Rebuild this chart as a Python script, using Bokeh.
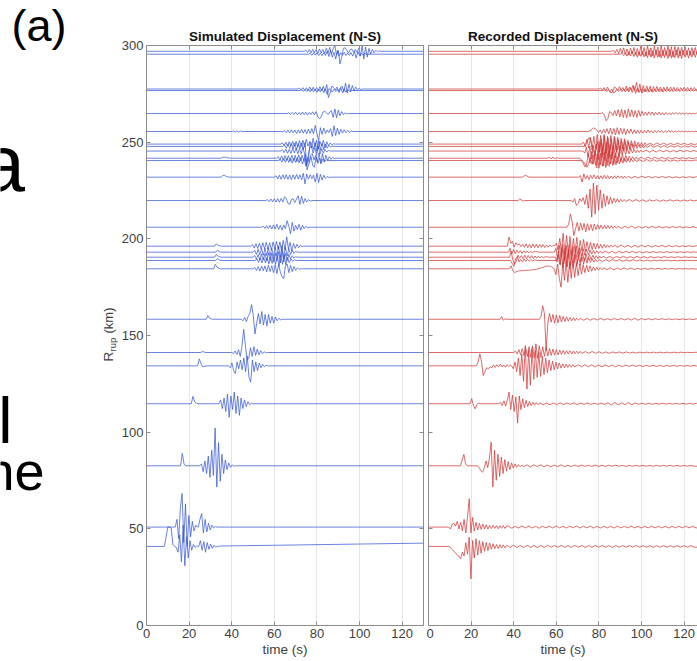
import math
from bokeh.plotting import figure
from bokeh.models import Range1d, LinearAxis, FixedTicker, ColumnDataSource, Title
from bokeh.core.properties import value
from bokeh.layouts import row
from bokeh.embed import file_html
from bokeh.resources import INLINE

# ---------------- data ----------------
x_ticks = [0, 20, 40, 60, 80, 100, 120]
y_ticks = [0, 50, 100, 150, 200, 250, 300]
t_end = 130.0

# station rupture distances (km), same order for both panels
rrup_km = [297.0, 295.5, 277.5, 276.7, 264.8, 255.5, 249.0, 247.8, 245.4, 241.7, 240.5, 231.9, 219.8,
           206.0, 196.2, 193.1, 190.5, 188.8, 184.5, 158.4, 141.2, 134.3, 114.7, 82.6, 50.9, 40.9]

# each wave: list of windows [start time (s), step (s), displacement offsets (km-scaled)]
sim_w01 = [[74, 0.8, [0,0.6,-0.7,0.9,-0.8,1.0,-0.9,0.8,-1.1,1.2,-0.9,1.0,-1.2,1.5,-1.0,2.0,-1.5,1.2,3.0,-2.0,0.5,-6.5,-3.0,1.5,1.8,0.5,-1.0,0.8,1.2,-0.6,0.9,-0.5,1.5,-2.5,2.8,-4.0,2.2,-3.0,1.5,-1.5,1.0,-0.8,0.5,-0.3,0.2,0]]]
sim_w02 = [[76, 0.8, [0,0.5,-0.6,0.7,-0.5,0.8,-0.7,0.6,-0.8,0.9,-0.7,1.5,-1.2,2.0,-1.5,1.0,-2.5,1.8,-1.0,0.8,-0.6,0.9,-0.7,0.5,-0.6,0.8,-1.0,1.5,-2.0,1.2,-0.8,0.5,-0.4,0.3,0]]]
sim_w03 = [[71, 0.8, [0,0.5,-0.6,0.7,-0.8,0.6,-0.9,1.0,-0.7,0.9,-1.0,0.8,-0.9,1.2,-1.0,1.5,-1.0,2.3,-4.4,-2.0,1.5,0.8,-0.5,1.0,-1.2,0.6,1.5,-1.5,3.0,-2.0,2.5,-1.5,1.8,-1.0,1.0,-0.6,0.5,-0.3,0]]]
sim_w04 = [[72, 0.8, [0,0.4,-0.5,0.6,-0.5,0.7,-0.6,0.8,-0.7,0.6,-0.9,0.8,-0.6,1.0,-1.2,0.8,-2.0,1.0,0.5,-0.8,0.6,-0.5,0.8,-1.0,1.5,-1.2,1.0,-0.8,0.6,-0.4,0.3,0]]]
sim_w05 = [[66, 0.8, [0,0.4,-0.5,0.6,-0.5,0.7,-0.6,0.5,-0.7,0.8,-0.6,0.7,-0.8,0.6,-0.5,0.9,-0.7,1.0,-1.5,-2.7,-1.5,0.8,1.2,0.5,-0.5,0.8,1.5,-2.0,2.4,-2.2,1.8,-1.2,1.0,-0.6,0.4,-0.2,0]]]
sim_w06 = [[40, 0.8, [0,0.3,-0.3,0.4,-0.3,0.3,0]],
           [64, 0.8, [0,0.5,-0.6,0.7,-0.8,0.9,-0.7,0.8,-1.0,0.9,-0.8,1.1,-0.9,1.0,-1.2,1.3,-1.0,1.5,-1.2,3.1,-1.0,-4.6,2.0,-1.5,1.8,-1.0,0.8,-0.6,1.5,-2.5,3.0,-2.0,1.8,-1.5,1.2,-0.8,0.9,-0.6,0.5,-0.4,0.3,0]]]
sim_w07 = [[63, 0.8, [0,0.6,-0.8,1.0,-0.9,1.2,-1.0,1.5,-1.2,1.4,-1.6,1.8,-1.3,2.0,-1.5,2.5,-1.0,1.2,-2.0,3.0,-1.5,2.0,-2.5,1.5,-1.0,2.0,-1.8,1.2,-0.8,0.6,-0.4,0.2,0]]]
sim_w08 = [[64, 0.8, [0,0.8,-0.9,1.2,-1.0,1.5,-1.3,1.6,-1.8,1.5,-1.2,1.8,-1.5,2.0,-10.0,-6.0,2.5,1.0,-1.5,2.0,-2.5,3.0,-2.0,1.5,-1.8,1.2,-0.9,0.6,-0.4,0.2,0]]]
sim_w09 = [[63, 0.8, [0,0.7,-0.8,1.0,-1.1,0.9,-1.2,1.3,-1.0,1.5,-1.4,1.2,-1.6,2.0,-1.5,-7.5,-3.0,1.5,2.5,-1.0,1.8,-2.2,2.5,-1.5,1.2,-1.0,0.8,-0.5,0.3,0]]]
sim_w10 = [[35, 0.8, [0,0.5,0.6,0.3,0.2,0.1,0]],
           [61, 0.8, [0,0.8,-1.0,1.2,-1.1,1.4,-1.2,1.3,-1.5,1.6,-1.3,1.5,-1.7,1.8,-1.4,1.6,-1.2,2.0,-6.0,-3.0,1.5,2.5,-1.0,1.5,-2.0,2.8,-3.0,2.5,-2.0,1.5,-1.2,0.8,-0.6,0.4,-0.2,0]]]
sim_w11 = [[62, 0.8, [0,0.6,-0.8,1.0,-0.9,1.2,-1.0,1.1,-1.3,1.2,-1.0,1.4,-1.2,1.5,-1.8,1.0,-3.0,1.5,-1.0,2.0,-2.5,-3.5,2.0,-1.5,1.2,-1.0,0.8,-0.5,0.3,0]]]
sim_w12 = [[35, 0.8, [0,0.8,1.0,0.4,0.1,0]],
           [60, 0.8, [0,0.7,-0.9,1.0,-1.1,1.2,-1.0,1.3,-1.2,1.1,-1.3,1.2,-1.1,1.4,-1.0,1.2,-1.3,2.0,-3.5,1.5,-1.0,1.2,-0.8,1.0,-2.5,2.0,-2.8,1.5,-1.5,1.0,-0.6,0.4,-0.2,0]]]
sim_w13 = [[56, 0.8, [0,0.5,-0.6,0.8,-0.7,0.9,-0.8,1.0,-0.9,1.1,-0.8,2.0,1.0,-1.5,-2.0,0.5,1.0,-1.0,0.8,2.5,-2.0,2.2,-1.5,1.0,-0.8,0.5,-0.3,0]]]
sim_w14 = [[54, 0.8, [0,0.5,-0.6,0.8,-0.7,1.0,-0.9,1.2,-1.0,1.5,-1.2,1.0,-1.5,1.2,-0.8,3.4,0.5,-3.4,2.5,-2.0,1.0,-1.2,1.5,-1.5,1.0,-0.8,0.5,-0.3,0]]]
sim_w15 = [[32, 0.8, [0,1.3,0.4,0.2,0]],
           [49, 0.8, [0,0.8,-1.0,1.3,-1.2,1.6,-1.5,1.8,-1.4,2.0,-1.6,1.8,-2.0,2.2,-1.5,2.5,-1.8,2.2,-2.4,3.0,-2.0,4.8,-1.5,2.0,-2.5,1.5,-1.2,1.0,-0.8,0.5,-0.3,0]]]
sim_w16 = [[32.5, 0.8, [0,1.0,0.3,0]],
           [50, 0.8, [0,1.0,-1.2,1.5,-1.3,1.8,-1.6,2.0,-1.7,2.2,-1.8,2.0,-2.2,2.5,-2.0,3.0,-2.5,3.5,-3.0,2.5,-2.0,1.8,-1.2,1.0,-0.6,0.4,0]]]
sim_w17 = [[32, 0.8, [0,1.5,0.5,0.2,0]],
           [50, 0.8, [0,0.9,-1.1,1.4,-1.5,1.7,-1.4,1.9,-2.0,2.3,-1.8,2.1,-2.4,2.2,-2.0,2.8,-3.0,3.5,-2.5,2.0,-1.8,1.5,-1.0,0.8,-0.5,0.3,0]]]
sim_w18 = [[32.5, 0.8, [0,1.0,0.3,0]],
           [51, 0.8, [0,0.8,-1.0,1.2,-1.3,1.5,-1.2,1.6,-1.8,2.0,-1.5,1.8,-2.0,2.5,-3.0,2.5,-2.0,2.8,-2.2,1.6,-1.2,0.8,-0.5,0.3,0]]]
sim_w19 = [[31.5, 0.8, [0,2.3,0.8,0.3,0]],
           [50, 0.8, [0,0.7,-0.9,1.1,-1.2,1.4,-1.0,1.5,-1.6,1.8,-1.4,1.6,-2.0,2.0,-2.5,2.2,-1.5,-4.3,-5.0,1.5,2.5,-2.0,1.8,-1.5,1.2,-0.8,0.5,-0.3,0]]]
sim_w20 = [[28, 0.8, [0,1.9,0.5,0.2,0]],
           [44.5, 0.8, [0,-0.8,1.0,-1.2,1.5,3.0,7.6,2.0,-7.6,-2.0,3.0,-2.5,4.0,-3.0,2.5,-3.5,2.5,-2.0,1.5,-2.0,1.2,-0.8,0.5,-0.3,0]]]
sim_w21 = [[25.5, 0.8, [0,0.6,0.2,0]],
           [40, 0.8, [0,-0.5,0.8,-1.0,1.5,-2.0,3.0,12.0,4.0,-4.0,-3.0,2.5,-2.0,3.0,-1.5,1.8,-1.2,1.0,-0.6,0.4,-0.2,0]]]
sim_w22 = [[24, 0.8, [0,3.6,1.0,-0.5,-0.3,0]],
           [38.5, 0.8, [0,-1.0,1.5,-2.5,-4.0,2.0,-1.5,3.0,-2.0,4.0,-3.0,5.0,-6.0,-8.4,3.0,-3.0,2.0,-2.5,1.5,-1.0,0.8,-0.5,0.3,0]]]
sim_w23 = [[21, 0.8, [0,3.8,1.0,0.3,0]],
           [34, 0.8, [0,2.0,-2.5,3.0,-4.0,5.0,-7.0,4.0,-3.0,6.0,-5.0,4.0,-6.0,3.0,-2.5,2.0,-1.5,1.0,-0.5,0.3,0]]]
sim_w24 = [[16, 0.8, [0,6.5,1.0,0]],
           [25, 0.8, [0,1.0,-3.0,2.5,-4.0,5.0,-6.0,8.0,-5.0,19.5,-11.0,12.0,-8.0,6.0,-4.0,3.0,-2.0,1.5,-0.8,0.5,-0.2,0]]]
sim_w25 = [[13.5, 0.8, [0,4.0,-6.0,10.0,17.4,-8.0,12.0,-10.0,6.0,-5.0,3.0,-2.0,1.0,0]],
           [24.3, 0.8, [0,4.0,7.0,-3.0,4.0,-2.5,2.0,-1.5,1.0,-0.5,0.3,0]]]
sim_w26 = [[8.4, 0.8, [0,5,10,10,9.5,1,0,-0.5,-3,6,-8,11,-10,5,-6,3,-2,1,-0.5,0.3,0]],
           [24.5, 0.8, [0,3.0,-2.0,2.5,-3.0,2.0,-1.5,1.2,-1.0,0.6,-0.4,0.2,0]],
           [34.5, 95.5, [0.2, 1.7]]]

rec_w01 = [[86, 0.8, [0,0.6,-0.8,1.0,-1.2,1.5,-1.0,1.8,-1.5,1.2,-2.0,1.6,-1.4,2.0,-1.8,1.5,-2.2,2.5,-1.8,2.0,-2.5,2.8,-2.0,1.8,-2.4,2.6,-2.0,2.2,-2.8,3.0,-2.5,2.0,-2.2,2.8,-2.6,2.4,-3.0,2.5,-2.0,2.2,-2.5,2.0,-1.8,2.3,-2.0,1.8,-2.1,1.9,-1.7,2.0,-1.6,1.5]]]
rec_w02 = [[90, 0.8, [0,0.5,-0.7,0.9,-1.0,1.2,-0.9,1.4,-1.2,1.0,-1.5,1.3,-1.1,1.6,-1.4,1.2,-1.8,2.0,-1.5,1.7,-2.0,2.2,-1.6,1.5,-2.0,2.1,-1.7,1.8,-2.2,2.4,-2.0,1.6,-1.8,2.2,-2.0,1.9,-2.3,2.0,-1.6,1.8,-2.0,1.6,-1.5,1.8,-1.6,1.4,-1.5]]]
rec_w03 = [[80, 0.8, [0,0.5,-0.6,0.7,-0.8,1.0,-1.0,-2.0,-1.5,1.0,0.5,-0.8,1.2,-0.5,0.8,-1.0,1.5,-0.8,1.0,-0.6,2.0,-1.0,3.4,-1.5,2.5,-2.0,1.8,-1.5,1.6,-1.2,1.4,-1.5,1.2,-1.0,1.3,-1.1,1.0,-1.2,0.9,-1.0,1.1,-0.9,1.0,-0.8,0.9,-1.0,0.8,-0.9,0.7,-0.8,0.9,-0.7,0.8,-0.9,0.7,-0.6,0.8,-0.7,0.6,-0.5]]]
rec_w04 = [[82, 0.8, [0,0.4,-0.5,0.6,-0.7,0.8,-1.2,-0.8,0.6,-0.5,0.7,-0.6,0.8,-0.7,1.0,-0.8,1.5,-1.0,2.0,-1.5,1.2,-1.0,0.9,-1.1,0.8,-0.7,0.9,-0.8,0.7,-0.9,0.6,-0.7,0.8,-0.6,0.7,-0.8,0.6,-0.5,0.7,-0.6,0.5,-0.6,0.5,-0.4,0.5,-0.5,0.4,-0.3,0.4,-0.3,0.3,-0.3,0.3,-0.2,0.2,-0.2,0.2]]]
rec_w05 = [[81, 0.8, [0,0.5,-1.0,-3.7,-2.5,1.0,0.5,-1.0,1.5,-1.2,2.0,-1.8,2.2,-2.0,1.8,-2.2,2.4,-1.6,2.0,-1.8,1.5,-2.0,1.7,-1.4,1.2,-1.0,0.8,-1.0,0.9,-0.7,0.8,-0.9,0.6,-0.7,0.8,-0.6,0.5,-0.7,0.6,-0.5,0.4,-0.6,0.5,-0.4,0.5,-0.4,0.3,-0.4,0.3,-0.3,0.3,-0.3,0.2,-0.2,0.2,-0.2,0.2,-0.2]]]
rec_w06 = [[75, 0.8, [0,0.5,1.0,1.9,1.5,0.8,-0.5,0.8,-1.0,1.2,-0.8,1.5,-1.2,1.8,-1.4,1.6,-1.8,2.0,-1.5,1.7,-1.3,1.5,-1.6,1.2,-1.0,1.3,-1.1,0.9,-1.0,0.8,-0.9,0.7,-0.8,0.6,-0.7,0.8,-0.6,0.5,-0.7,0.6,-0.5,0.6,-0.4,0.5,-0.5,0.4,-0.4,0.5,-0.3,0.4,-0.4,0.3,-0.3,0.3,-0.2,0.3,-0.2,0.2,-0.2,0.2,-0.2,0.2,-0.2,0.2,-0.2]]]
rec_w07 = [[72, 0.8, [0,1.0,-1.5,2.5,-2.0,3.5,-3.0,4.0,-2.5,5.0,-4.0,4.5,-3.5,5.0,-4.5,4.0,-5.0,4.5,-3.5,4.0,-3.0,3.5,-3.2,3.0,-2.5,2.8,-2.2,2.0,-2.4,1.8,-1.5,1.6,-1.2,1.0,-1.1,0.8,-0.9,0.7]],
           [102.4, 1.6, [-0.6,0.5,-0.5,0.6,-0.4,0.5,-0.5,0.4,-0.4,0.5,-0.3,0.4,-0.4,0.3,-0.3,0.3]]]
rec_w08 = [[73, 0.8, [0,1.5,3.0,4.5,3.0,-1.0,-3.5,-2.0,2.5,-3.0,4.0,-4.5,5.5,-4.0,4.5,-5.0,3.8,-4.2,4.5,-3.0,3.5,-3.8,2.8,-2.5,3.0,-2.2,2.0,-1.8,1.5,-1.6,1.2,-1.0,0.9,-0.8,0.7,-0.8,0.6]],
           [102.6, 1.6, [-0.5,0.6,-0.4,0.5,-0.5,0.4,-0.5,0.4,-0.3,0.4,-0.4,0.3,-0.3,0.4,-0.3,0.3]]]
rec_w09 = [[72.5, 0.8, [0,-1.0,2.0,-3.0,2.5,-4.0,3.0,-2.5,3.5,-4.5,5.0,-3.5,4.0,-5.0,4.5,-4.0,3.5,-4.0,3.0,-3.5,2.5,-3.0,2.8,-2.0,2.2,-1.8,1.5,-1.4,1.2,-1.0,0.8,-0.9,0.6,-0.7,0.5]],
           [100.5, 1.6, [-0.5,0.5,-0.6,0.4,-0.5,0.5,-0.4,0.4,-0.5,0.3,-0.4,0.4,-0.3,0.3,-0.3,0.3,-0.2]]]
rec_w10 = [[56, 0.8, [0,0.5,-0.4,0.6,-0.3,0.2,0]],
           [71, 0.8, [0,-1.0,-2.5,-4.5,-3.0,2.0,-2.5,3.5,-3.0,4.0,-5.0,4.5,-3.5,5.0,-4.0,4.5,-3.8,4.0,-3.0,3.5,-3.2,2.8,-2.4,2.5,-2.0,1.8,-1.6,1.4,-1.2,1.0,-0.9,0.8,-0.7,0.6]],
           [98.2, 1.6, [-0.6,0.5,-0.5,0.6,-0.4,0.5,-0.4,0.5,-0.4,0.3,-0.4,0.4,-0.3,0.3,-0.3,0.3,-0.2,0.2]]]
rec_w11 = [[72, 0.8, [0,-0.8,-2.0,-3.5,-1.5,1.5,-2.0,3.0,-2.5,3.5,-4.0,3.8,-3.0,4.2,-3.6,3.5,-3.0,3.2,-2.6,2.8,-2.2,2.0,-1.8,1.6,-1.4,1.2,-1.0,0.9,-0.8,0.7,-0.6,0.5]],
           [97.6, 1.6, [-0.5,0.4,-0.5,0.5,-0.4,0.4,-0.4,0.3,-0.4,0.4,-0.3,0.3,-0.3,0.3,-0.2,0.2,-0.2,0.2]]]
rec_w12 = [[44, 0.8, [0,0.6,1.0,0.4,0]],
           [70.5, 0.8, [0,0.8,-2.6,1.7,-1.0,0.8,-1.2,1.0,-0.8,1.2,-0.9,0.8,-1.0,0.7,-0.9,1.0,-0.7,0.8,-0.9,0.6,-0.8,0.7,-0.6,0.7,-0.5,0.6,-0.6,0.5,-0.5]],
           [93.7, 1.6, [0.4,-0.5,0.4,-0.4,0.5,-0.3,0.4,-0.4,0.3,-0.3,0.4,-0.3,0.3,-0.3,0.2,-0.3,0.2,-0.2,0.2,-0.2,0.2]]]
rec_w13 = [[42, 0.8, [0,0.8,0.3,-0.3,0]],
           [67, 0.8, [0,-0.8,1.0,-2.6,-1.5,1.0,-0.5,1.5,-2.0,3.0,-4.0,6.0,-8.6,9.0,-7.0,8.0,-5.0,5.5,-4.0,3.5,-3.0,2.5,-2.0,1.8,-1.5,1.2,-1.0,0.9,-0.8,0.7,-0.6,0.5]],
           [92.6, 1.6, [-0.5,0.5,-0.4,0.5,-0.4,0.4,-0.5,0.4,-0.3,0.4,-0.4,0.3,-0.3,0.4,-0.3,0.3,-0.3,0.3,-0.2,0.3,-0.2,0.2]]]
rec_w14 = [[65, 0.8, [0,1.5,6.9,3.0,-4.3,-1.0,2.5,-2.0,2.2,-1.5,2.0,-2.4,1.8,-1.6,1.5,-1.8,1.6,-1.2,1.3,-1.0,1.1,-0.9,1.0,-0.8,0.9,-0.7,0.8,-0.6,0.6,-0.5]],
           [89, 1.6, [0.5,-0.6,0.5,-0.4,0.6,-0.5,0.4,-0.5,0.4,-0.4,0.5,-0.3,0.4,-0.4,0.3,-0.3,0.4,-0.3,0.3,-0.3,0.2,-0.2,0.3,-0.2]]]
rec_w15 = [[37, 0.8, [0,4.7,1.5,2.5,-0.5,1.8,0.5,1.2,-0.3,1.0,-0.6,1.2,-0.8,1.0,-0.9,1.2,-0.7,1.0,-0.8,0.9,-0.6,0.8,-0.7,0.6,-0.5,0.6,-0.4,0.5,0.3]],
           [60, 0.8, [1.5,-2.0,4.0,-3.0,6.7,-4.0,5.5,-3.5,5.0,-4.5,4.0,-3.0,4.5,-3.5,3.0,-2.5,3.5,-2.8,2.5,-2.2,2.0,-1.8,1.6,-1.5,1.4,-1.2,1.0,-1.1,0.9,-0.8,0.7,-0.6,0.6,-0.5]],
           [87.2, 1.6, [0.5,-0.6,0.6,-0.5,0.5,-0.6,0.4,-0.5,0.5,-0.4,0.4,-0.5,0.4,-0.3,0.4,-0.4,0.3,-0.3,0.3,-0.3,0.2,-0.2,0.2,-0.2,0.2]]]
rec_w16 = [[37.5, 0.8, [0,2.0,-1.0,1.5,-0.8,1.0,-0.5,0.8,-0.6,0.7,-0.5,0.6,-0.4,0.5,-0.4,0.4,0.3,0.2,0]],
           [59, 0.8, [0,2.0,-3.0,3.5,-2.5,4.0,-4.5,3.5,-3.0,4.0,-3.5,3.0,-2.8,3.2,-2.5,2.2,-2.0,1.8,-1.6,1.5,-1.3,1.1,-1.0,0.9,-0.8,0.7,-0.6,0.5]],
           [81.4, 1.6, [-0.5,0.5,-0.4,0.5,-0.5,0.4,-0.4,0.5,-0.3,0.4,-0.4,0.3,-0.4,0.3,-0.3,0.3,-0.3,0.2,-0.2,0.3,-0.2,0.2,-0.2,0.2,-0.2,0.2,-0.1,0.1,0.0]]]
rec_w17 = [[38, 0.8, [0,3.0,-1.5,-3.5,-2.0,1.0,-0.5,0.8,-0.7,1.0,-0.8,0.9,-0.6,0.8,-0.7,0.6,-0.5,0.6,-0.4,0.5,-0.4,0.3,0.2,0]],
           [59.5, 0.8, [0,-2.5,3.0,-4.0,5.0,-3.5,4.5,-5.0,4.0,-4.2,3.5,-3.0,3.8,-3.2,2.8,-2.5,2.2,-2.0,1.8,-1.5,1.3,-1.2,1.0,-0.9,0.8,-0.7,0.6,-0.5]],
           [81.9, 1.6, [0.5,-0.5,0.4,-0.5,0.4,-0.4,0.5,-0.4,0.3,-0.4,0.4,-0.3,0.3,-0.3,0.3,-0.3,0.2,-0.2,0.3,-0.2,0.2,-0.2,0.2,-0.2,0.2,-0.1,0.1,-0.1,0.0]]]
rec_w18 = [[38.5, 0.8, [0,-1.5,-3.0,1.0,2.0,-0.8,0.6,-0.7,0.8,-0.5,0.6,-0.4,0.5,-0.3,0.3,0.2,0]],
           [60, 0.8, [0,3.0,-2.0,3.5,-4.0,4.5,-3.0,3.8,-4.5,3.2,-3.5,2.8,-3.0,2.5,-2.2,2.0,-1.8,1.5,-1.4,1.2,-1.0,0.9,-0.8,0.6,-0.5]],
           [80, 1.6, [0.4,-0.5,0.4,-0.4,0.5,-0.3,0.4,-0.4,0.3,-0.3,0.4,-0.3,0.3,-0.3,0.2,-0.3,0.2,-0.2,0.2,-0.2,0.2,-0.2,0.1,-0.1,0.1,-0.1,0.1,-0.1,0.0,0.0]]]
rec_w19 = [[38, 0.8, [0,1.5,-1.0,-2.0,-1.5,-1.2,-1.0,-1.0,-0.9,-0.8,-0.8,-0.7,-0.7,-0.6,-0.5,-0.4,-0.2,0.0,0.3,0.6,0.9,1.2,1.4,1.5,1.3,0.8]],
           [59, 0.8, [0,-3.0,2.5,-5.0,-9.5,3.0,-6.0,4.0,-7.0,3.5,-5.0,4.0,-4.5,3.0,-3.5,2.5,-2.8,2.2,-2.0,1.8,-1.6,1.4,-1.2,1.0,-0.9,0.8,-0.7,0.6,-0.5]],
           [82.2, 1.6, [0.5,-0.4,0.5,-0.5,0.4,-0.4,0.5,-0.3,0.4,-0.4,0.3,-0.3,0.3,-0.3,0.3,-0.2,0.2,-0.2,0.2,-0.2,0.2,-0.2,0.2,-0.1,0.1,-0.1,0.1,-0.1]]]
rec_w20 = [[33.5, 0.8, [0,1.4,-0.5,0.2,0]],
           [52, 0.8, [0,1.5,7.0,3.0,-16.0,-2.0,3.0,-1.5,2.5,-2.0,2.2,-1.8,2.0,-1.5,1.5,-1.2,1.3,-1.0,0.9,-0.8,0.8,-0.7,0.6,-0.5]],
           [71.2, 1.6, [0.5,-0.5,0.4,-0.5,0.4,-0.4,0.5,-0.4,0.3,-0.4,0.4,-0.3,0.4,-0.3,0.3,-0.4,0.5,-0.5,0.4,-0.3,0.3,-0.3,0.3,-0.2,0.3,-0.2,0.2,-0.2,0.2,-0.2,0.2,-0.2,0.2,-0.2,0.2]]]
rec_w21 = [[40, 0.8, [0,0.8,-0.8,1.5,-1.2,2.0,-1.5,2.5,-2.0,3.0,-2.5,3.5,-2.8,4.5,-3.0,3.5,-2.5,3.0,-2.0,2.5,-1.8,2.0,-1.5,1.8,-1.4,1.5,-1.2,1.3,-1.0,1.1,-0.9,1.0,-0.8,0.9,-0.7,0.8,-0.6,0.7,-0.5,0.6]],
           [72, 1.6, [-0.5,0.5,-0.4,0.5,-0.4,0.4,-0.4,0.3,-0.4,0.3,-0.3,0.3,-0.3,0.3,-0.3,0.2,-0.3,0.2,-0.2,0.2,-0.2,0.2,-0.2,0.2,-0.2,0.2,-0.2,0.2,-0.2,0.2,-0.1,0.1,-0.1,0.1]]]
rec_w22 = [[22.5, 0.8, [0,2.0,6.2,2.0,-5.0,-3.0,-1.0,-1.5,-0.5,-1.0,0.5,-0.8,0.6,-0.5,0.8,-0.6,0.5,-0.7,0.6,-0.4,0.5]],
           [39, 0.8, [0,-1.5,2.0,-3.0,4.0,-5.0,6.0,-8.0,10.5,-12.0,8.0,-10.0,9.0,-7.0,8.0,-6.0,7.0,-5.5,5.0,-4.5,4.0,-3.5,3.0,-2.5,2.5,-2.0,1.8,-1.6,1.5,-1.2,1.0,-1.0,0.9,-0.8,0.8,-0.7,0.6]],
           [68.6, 1.6, [-0.6,0.6,-0.5,0.6,-0.5,0.5,-0.6,0.4,-0.5,0.5,-0.4,0.4,-0.5,0.4,-0.4,0.4,-0.3,0.4,-0.3,0.3,-0.4,0.3,-0.3,0.3,-0.3,0.2,-0.3,0.2,-0.2,0.2,-0.2,0.2,-0.2,0.2,-0.2,0.2,-0.2]]]
rec_w23 = [[19.5, 0.8, [0,2.6,-1.0,-2.6,-0.5,0.3,0]],
           [33, 0.8, [0,0.8,-1.0,1.5,-1.2,2.0,6.0,-3.0,4.5,-4.0,3.5,-10.0,4.0,-3.0,2.5,-2.0,1.8,-1.5,1.2,-1.0,0.8,-0.7,0.6,-0.5]],
           [52.2, 1.6, [0.5,-0.5,0.4,-0.5,0.4,-0.4,0.5,-0.4,0.4,-0.3,0.4,-0.4,0.3,-0.3,0.4,-0.3,0.3,-0.3,0.3,-0.3,0.5,-0.6,0.7,-0.6,0.5,-0.5,0.6,-0.5,0.4,-0.3,0.3,-0.3,0.3,-0.3,0.2,-0.2,0.3,-0.2,0.2,-0.2,0.2,-0.2,0.2,-0.2,0.2,-0.2,0.2]]]
rec_w24 = [[15, 0.8, [0,3.0,5.9,1.0,0]],
           [23, 0.8, [0,-1.0,-2.5,-3.3,-1.0,2.5,-1.0,4.0,12.2,-11.0,8.0,-7.5,6.0,-5.5,4.5,-4.0,3.2,-2.8,2.2,-2.0,1.5,-1.2,1.0,-0.8,0.6,-0.5,0.4]],
           [44.6, 1.6, [-0.5,0.5,-0.6,0.5,-0.4,0.5,-0.5,0.4,-0.5,0.4,-0.4,0.5,-0.4,0.3,-0.4,0.4,-0.3,0.4,-0.3,0.3,-0.3,0.4,-0.3,0.3,-0.3,0.3,-0.2,0.3,-0.2,0.2,-0.3,0.2,-0.2,0.2,-0.2,0.2,-0.2,0.2,-0.2,0.2,-0.2,0.2,-0.2,0.2,-0.2,0.2,-0.2,0.2,-0.2,0.2,-0.2]]]
rec_w25 = [[9.5, 0.8, [0,-1.0,1.5,2.0,0.5,3.0,-1.0,2.5,-2.0,4.0,-3.0,5.0,14.7,-3.0,5.0,-2.0,2.5,-1.5,2.0,-1.2,1.5,-1.0,1.2,-1.0,0.9,-0.8,1.0,-0.7,0.8,-0.9,0.7,-0.6,0.8,-0.7,0.6]],
           [37.5, 1.6, [0.5,-0.6,0.4,-0.5,0.6,-0.4,0.5,-0.5,0.4,-0.6,0.5,-0.4,0.5,-0.5,0.6,-0.4,0.4,-0.5,0.5,-0.4,0.6,-0.5,0.4,-0.4,0.5,-0.5,0.4,-0.5,0.5,-0.4,0.4,-0.5,0.5,-0.4,0.4,-0.4,0.5,-0.4,0.4,-0.5,0.4,-0.4,0.5,-0.4,0.4,-0.4,0.4,-0.5,0.4,-0.4,0.4,-0.4,0.5,-0.4,0.4,-0.4]]]
rec_w26 = [[9.5, 0.8, [0,-0.5,-1.5,-2.5,-3.5,-4.5,-5.0,-6.4,-3.0,-5.0,2.0,-4.0,4.8,-16.8,3.0,-6.0,4.0,-4.5,3.0,-3.5,2.5,-2.5,2.0,-2.2,1.8,-1.5,1.4,-1.2,1.0,-1.1,0.9,-0.8,0.8,-0.7]],
           [36.7, 1.6, [0.6,-0.5,0.7,-0.6,0.5,-0.6,0.6,-0.5,0.5,-0.6,0.5,-0.5,0.6,-0.4,0.5,-0.5,0.6,-0.5,0.4,-0.5,0.5,-0.4,0.5,-0.5,0.4,-0.5,0.5,-0.4,0.5,-0.4,0.4,-0.5,0.4,-0.4,0.5,-0.4,0.4,-0.4,0.5,-0.4,0.4,-0.4,0.4,-0.5,0.4,-0.4,0.4,-0.4,0.4,-0.4,0.4,-0.4,0.4,-0.4,0.4,-0.4]]]

sim_waves = [sim_w01, sim_w02, sim_w03, sim_w04, sim_w05, sim_w06, sim_w07, sim_w08, sim_w09, sim_w10,
             sim_w11, sim_w12, sim_w13, sim_w14, sim_w15, sim_w16, sim_w17, sim_w18, sim_w19, sim_w20,
             sim_w21, sim_w22, sim_w23, sim_w24, sim_w25, sim_w26]
rec_waves = [rec_w01, rec_w02, rec_w03, rec_w04, rec_w05, rec_w06, rec_w07, rec_w08, rec_w09, rec_w10,
             rec_w11, rec_w12, rec_w13, rec_w14, rec_w15, rec_w16, rec_w17, rec_w18, rec_w19, rec_w20,
             rec_w21, rec_w22, rec_w23, rec_w24, rec_w25, rec_w26]

# ---------------- layout ----------------
H = 661
LEFT_W = 118          # text strip on the far left
FRAME_L = 146         # left edge of first plot frame (canvas px)
FRAME_W = 277
FRAME_T = 45
FRAME_H = 580
X_MAX = 130.0
Y_MAX = 300.0
PX_PER_S = FRAME_W / X_MAX
FONT = "Liberation Sans"
ASC, DESC = 0.905, 0.212   # font metrics used to place a baseline with "middle" anchoring


def build_source(waves):
    xs_all, ys_all = [], []
    for base, wins in zip(rrup_km, waves):
        xs, ys = [0.0], [base]
        last = 0.0
        for t0, dt, vals in wins:
            for i, v in enumerate(vals):
                xs.append(t0 + i * dt)
                ys.append(base + v)
            last = vals[-1]
        xs.append(t_end)
        ys.append(base + last)
        xs_all.append(xs)
        ys_all.append(ys)
    return ColumnDataSource(dict(xs=xs_all, ys=ys_all))


def style_axis(ax, ticks, labels):
    ax.ticker = FixedTicker(ticks=ticks)
    ax.axis_line_color = "#8c8c8c"
    ax.axis_line_width = 1
    ax.major_tick_line_color = "#8c8c8c"
    ax.major_tick_in = 4
    ax.major_tick_out = 0
    ax.minor_tick_line_color = None
    ax.major_label_text_font = FONT
    ax.major_label_text_color = "#404040"
    if labels:
        ax.major_label_text_font_size = "13px"
        ax.major_label_standoff = 3
    else:
        ax.major_label_text_font_size = "0px"
        ax.major_label_standoff = 0


def make_panel(total_w, x_hi, min_left, min_right, waves, color, title, title_offset,
               left_labels, right_axis):
    p = figure(width=total_w, height=H,
               x_range=Range1d(0, x_hi), y_range=Range1d(0, Y_MAX),
               output_backend="svg", toolbar_location=None,
               min_border_left=min_left, min_border_right=min_right,
               min_border_top=FRAME_T, min_border_bottom=H - FRAME_T - FRAME_H)
    p.title = Title(text=title, align="center", text_font=FONT, text_font_size="13.5px",
                    text_font_style="bold", text_color="#111111", standoff=3,
                    offset=title_offset)
    p.outline_line_color = None
    p.background_fill_color = "white"
    p.border_fill_color = "white"
    style_axis(p.xaxis[0], x_ticks, True)
    p.xaxis[0].axis_label = "time (s)"
    p.xaxis[0].axis_label_text_font = FONT
    p.xaxis[0].axis_label_text_font_size = "13.5px"
    p.xaxis[0].axis_label_text_font_style = "normal"
    p.xaxis[0].axis_label_text_color = "#404040"
    p.xaxis[0].axis_label_standoff = 1
    style_axis(p.yaxis[0], y_ticks, left_labels)
    top = LinearAxis()
    style_axis(top, x_ticks, False)
    p.add_layout(top, "above")
    if right_axis:
        rt = LinearAxis()
        style_axis(rt, y_ticks, False)
        p.add_layout(rt, "right")
    p.xgrid.ticker = FixedTicker(ticks=x_ticks)
    p.xgrid.grid_line_color = "#e6e6e6"
    p.ygrid.visible = False

    src = build_source(waves)
    p.multi_line("xs", "ys", source=src, line_color=color, line_width=0.8,
                 line_alpha=0.95, line_join="round")
    return p


# left strip: panel tag, slide text fragments and the rotated y-axis label
pL = figure(width=LEFT_W, height=H, x_range=Range1d(0, LEFT_W),
            output_backend="svg", toolbar_location=None,
            x_axis_type=None, y_axis_type=None,
            min_border_left=0, min_border_right=0, min_border_top=0, min_border_bottom=0)
try:
    pL.frame_align = False          # keep this strip's frame the whole canvas
    strip_top, strip_bottom = 0, H
except Exception:
    strip_top, strip_bottom = FRAME_T, FRAME_T + FRAME_H
pL.y_range = Range1d(strip_bottom, strip_top)   # data units = canvas pixels, downward
pL.outline_line_color = None
pL.xgrid.visible = False
pL.ygrid.visible = False
pL.background_fill_color = "white"
pL.border_fill_color = "white"

MID = ASC - (ASC + DESC) / 2.0   # distance from em-box centre to baseline, in em


def put_text(x, baseline_y, s, size, align="left", color="#000000"):
    pL.text(x=[x], y=[baseline_y - MID * size], text=[s], text_font=value(FONT),
            text_font_size="%gpx" % size, text_color=color, text_align=align,
            text_baseline="middle")


def put_vtext(baseline_x, y, s, size, color="#404040"):
    pL.text(x=[baseline_x - MID * size], y=[y], text=[s], angle=math.pi / 2,
            text_font=value(FONT), text_font_size="%gpx" % size, text_color=color,
            text_align="left", text_baseline="middle")


put_text(11, 41, "(a)", 45)
put_text(24.5, 191, "a", 80, align="right")
put_text(12, 443, "l", 64, align="right")
put_text(44, 489, "he", 54, align="right")
put_vtext(112.5, 361, "R", 13.5)
put_vtext(115.5, 351, "rup", 9.5)
put_vtext(112.5, 333, "(km)", 13)

p1_w = FRAME_L + FRAME_W + 3 - LEFT_W
p1 = make_panel(p1_w, X_MAX, FRAME_L - LEFT_W, 3, sim_waves, "#3a5ad6",
                "Simulated Displacement (N-S)", 0, True, True)
p2_w = 697 - LEFT_W - p1_w
p2_frame = p2_w - 2
p2 = make_panel(p2_w, p2_frame / PX_PER_S, 2, 0, rec_waves, "#d03a3a",
                "Recorded Displacement (N-S)", 4, False, False)

layout = row(pL, p1, p2)
open("out.html", "w").write(file_html(layout, INLINE))
